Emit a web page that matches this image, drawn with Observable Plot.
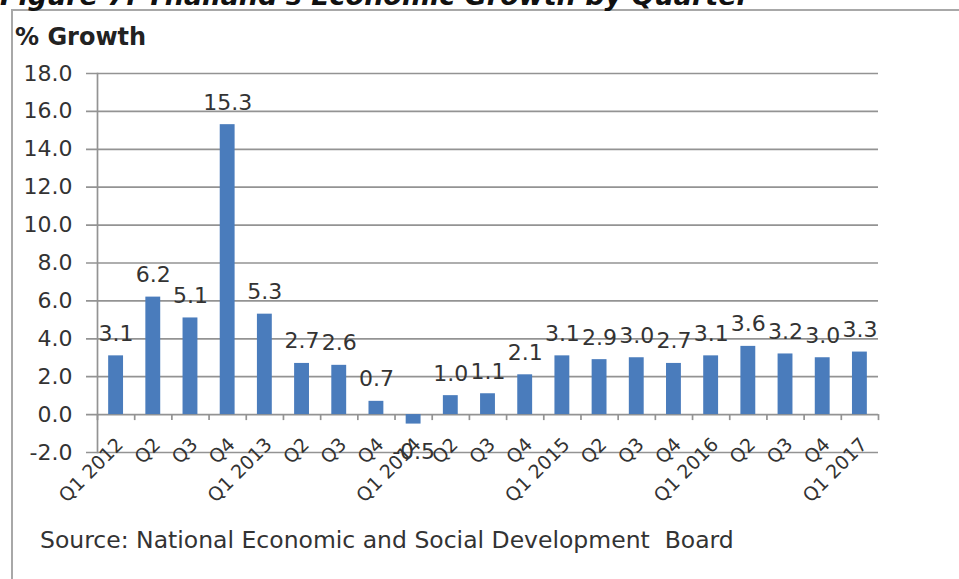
<!DOCTYPE html>
<html>
<head>
<meta charset="utf-8">
<script src="https://cdn.jsdelivr.net/npm/d3@7"></script>
<script src="https://cdn.jsdelivr.net/npm/@observablehq/plot@0.6"></script>
<style>
  html, body { margin: 0; padding: 0; background: #fff; }
  #wrap { position: relative; width: 959px; height: 579px; overflow: hidden; background: #fff; font-family: "DejaVu Sans", sans-serif; }
  #title { position: absolute; left: 0px; top: -18px; line-height: 27px; font-size: 27px; font-weight: bold; font-style: italic; color: #111; white-space: nowrap; }
  #frame { position: absolute; left: 11px; top: 9px; width: 960px; height: 600px; border-top: 2px solid #a8a8a8; border-left: 2px solid #a8a8a8; box-sizing: border-box; }
  #ylabel { position: absolute; left: 15px; top: 24px; font-size: 24px; font-weight: bold; color: #222; line-height: 26px; white-space: nowrap; }
  #source { position: absolute; left: 40px; top: 526px; font-size: 23.5px; color: #333; line-height: 28px; white-space: pre; }
  #chart { position: absolute; left: 0; top: 0; }
</style>
</head>
<body>
<div id="wrap">
  <div id="frame"></div>
  <div id="title">Figure 7: Thailand's Economic Growth by Quarter</div>
  <div id="ylabel">% Growth</div>
  <div id="chart"></div>
  <div id="source">Source: National Economic and Social Development  Board</div>
</div>
<script>
const categories = ["Q1 2012","Q2","Q3","Q4","Q1 2013","Q2","Q3","Q4","Q1 2014","Q2","Q3","Q4","Q1 2015","Q2","Q3","Q4","Q1 2016","Q2","Q3","Q4","Q1 2017"];
const growth = [3.1, 6.2, 5.1, 15.3, 5.3, 2.7, 2.6, 0.7, -0.5, 1.0, 1.1, 2.1, 3.1, 2.9, 3.0, 2.7, 3.1, 3.6, 3.2, 3.0, 3.3];
const yTicks = [-2, 0, 2, 4, 6, 8, 10, 12, 14, 16, 18];
const yDomain = [-2, 18];

const data = categories.map((c, i) => ({key: i, label: c, value: growth[i]}));
const keys = data.map(d => d.key);

const W = 959, H = 579, ML = 97, MR = 81, MT = 73, MB = 127;
const step = (W - ML - MR) / categories.length;
const unitPx = (H - MT - MB) / (yDomain[1] - yDomain[0]);
const gridColor = "#939393";
const textColor = "#333333";

const chart = Plot.plot({
  width: W, height: H,
  marginLeft: ML, marginRight: MR, marginTop: MT, marginBottom: MB,
  style: {background: "transparent", fontFamily: "DejaVu Sans, sans-serif", fontSize: "22px", color: textColor, overflow: "visible"},
  x: {domain: keys, paddingInner: 0.6, paddingOuter: 0.3, round: false, axis: null},
  y: {domain: yDomain, axis: null},
  marks: [
    Plot.ruleY(yTicks, {stroke: gridColor, strokeWidth: 1.7, insetLeft: -11}),
    Plot.frame({anchor: "left", stroke: gridColor, strokeWidth: 1.7}),
    Plot.ruleX(data, {x: "key", y1: 0, y2: -6 / unitPx, dx: -step / 2, stroke: gridColor, strokeWidth: 1.7}),
    Plot.ruleX(data.slice(-1), {x: "key", y1: 0, y2: -6 / unitPx, dx: step / 2, stroke: gridColor, strokeWidth: 1.7}),
    Plot.axisY({ticks: yTicks, label: null, tickSize: 0, tickPadding: 25, tickFormat: d => d.toFixed(1), fontSize: 22, fill: textColor}),
    Plot.barY(data, {x: "key", y: "value", fill: "#4a7cbc"}),
    Plot.text(data.filter(d => d.value >= 0), {x: "key", y: "value", text: d => d.value.toFixed(1), lineAnchor: "bottom", dy: -15, fontSize: 22, fill: textColor}),
    Plot.text(data.filter(d => d.value < 0), {x: "key", y: "value", text: d => d.value.toFixed(1), lineAnchor: "top", dy: 19, fontSize: 22, fill: textColor}),
    Plot.text(data, {x: "key", y: () => yDomain[0], text: "label", rotate: -45, textAnchor: "end", lineAnchor: "middle", dx: 4, dy: -11, fontSize: 19, fill: textColor})
  ]
});
document.getElementById("chart").appendChild(chart);
</script>
</body>
</html>
